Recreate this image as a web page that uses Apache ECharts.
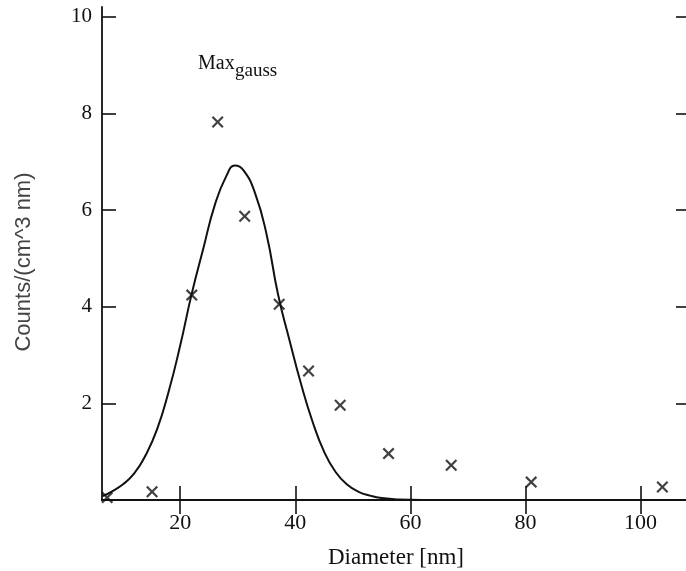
<!DOCTYPE html>
<html>
<head>
<meta charset="utf-8">
<script src="https://cdn.jsdelivr.net/npm/echarts@6/dist/echarts.min.js"></script>
<style>
  html, body { margin: 0; padding: 0; background: #fff; }
  #chart { width: 686px; height: 571px; }
</style>
</head>
<body>
<div id="chart"></div>
<script>
// tick labels
const diameterTicks = [20, 40, 60, 80, 100];
const countTicks = [2, 4, 6, 8, 10];

// measured points (crosses)
const measuredDiameter = [7.3, 15.1, 22.0, 26.5, 31.2, 37.2, 42.3, 47.8, 56.2, 67.1, 81.0, 103.8];
const measuredCounts = [0.05, 0.17, 4.24, 7.82, 5.87, 4.05, 2.67, 1.96, 0.96, 0.72, 0.37, 0.27];

// gauss fit curve
const fitDiameter = [6.5, 8, 10, 12, 14, 16, 18, 20, 22, 24, 26, 28, 29.5, 31, 33, 35, 37, 39, 41, 43, 45, 47, 49, 51, 53, 55, 58, 62, 70];
const fitCounts = [0.08, 0.17, 0.32, 0.55, 0.93, 1.47, 2.25, 3.2, 4.27, 5.2, 6.1, 6.7, 6.92, 6.82, 6.35, 5.5, 4.25, 3.3, 2.4, 1.62, 1.0, 0.58, 0.32, 0.17, 0.09, 0.04, 0.01, 0, 0];

const ink = '#111';
const serif = "'Liberation Serif', 'DejaVu Serif', serif";

const chart = echarts.init(document.getElementById('chart'));

const tickCommon = {
  show: true,
  inside: true,
  length: 14,
  lineStyle: { color: ink, width: 1.6 }
};

chart.setOption({
  animation: false,
  grid: { left: 102, right: -4, top: 7, bottom: 71, outerBoundsMode: 'none', containLabel: false },
  xAxis: [{
    type: 'value',
    min: 6.4,
    max: 108.6,
    name: 'Diameter [nm]',
    nameLocation: 'middle',
    nameGap: 46,
    nameTextStyle: { fontFamily: serif, fontSize: 23, color: ink },
    axisLine: { show: true, lineStyle: { color: ink, width: 1.8 } },
    axisTick: Object.assign({ customValues: diameterTicks }, tickCommon),
    axisLabel: { customValues: diameterTicks, fontFamily: serif, fontSize: 22, color: ink, margin: 12 },
    splitLine: { show: false }
  }, {
    type: 'value',
    position: 'top',
    min: 6.4,
    max: 108.6,
    axisLine: { show: true, lineStyle: { color: ink, width: 1.8 } },
    axisTick: Object.assign({ customValues: diameterTicks }, tickCommon),
    axisLabel: { show: false },
    splitLine: { show: false }
  }],
  yAxis: [{
    type: 'value',
    min: 0,
    max: 10.2,
    axisLine: { show: true, lineStyle: { color: ink, width: 1.8 } },
    axisTick: Object.assign({ customValues: countTicks }, tickCommon),
    axisLabel: { customValues: countTicks, fontFamily: serif, fontSize: 21, color: ink, margin: 10 },
    splitLine: { show: false }
  }, {
    type: 'value',
    position: 'right',
    min: 0,
    max: 10.2,
    axisLine: { show: true, lineStyle: { color: ink, width: 1.8 } },
    axisTick: Object.assign({ customValues: countTicks }, tickCommon),
    axisLabel: { show: false },
    splitLine: { show: false }
  }],
  graphic: [{
    type: 'text',
    left: 198,
    top: 54,
    style: { text: 'Max', font: '20px ' + serif, fill: ink }
  }, {
    type: 'text',
    left: 235,
    top: 62,
    style: { text: 'gauss', font: '19px ' + serif, fill: ink }
  }, {
    type: 'text',
    x: 24,
    y: 262,
    rotation: Math.PI / 2,
    style: {
      text: 'Counts/(cm^3 nm)',
      font: "22px 'Liberation Sans', Arial, sans-serif",
      fill: '#444',
      align: 'center',
      verticalAlign: 'middle'
    }
  }],
  series: [{
    type: 'line',
    data: fitDiameter.map((d, i) => [d, fitCounts[i]]),
    showSymbol: false,
    smooth: 0.5,
    lineStyle: { color: ink, width: 2 },
    z: 2
  }, {
    type: 'scatter',
    data: measuredDiameter.map((d, i) => [d, measuredCounts[i]]),
    symbol: 'path://M0,1.3L1.3,0L5,3.7L8.7,0L10,1.3L6.3,5L10,8.7L8.7,10L5,6.3L1.3,10L0,8.7L3.7,5Z',
    symbolSize: 12,
    itemStyle: { color: ink },
    z: 3
  }]
});
</script>
</body>
</html>
